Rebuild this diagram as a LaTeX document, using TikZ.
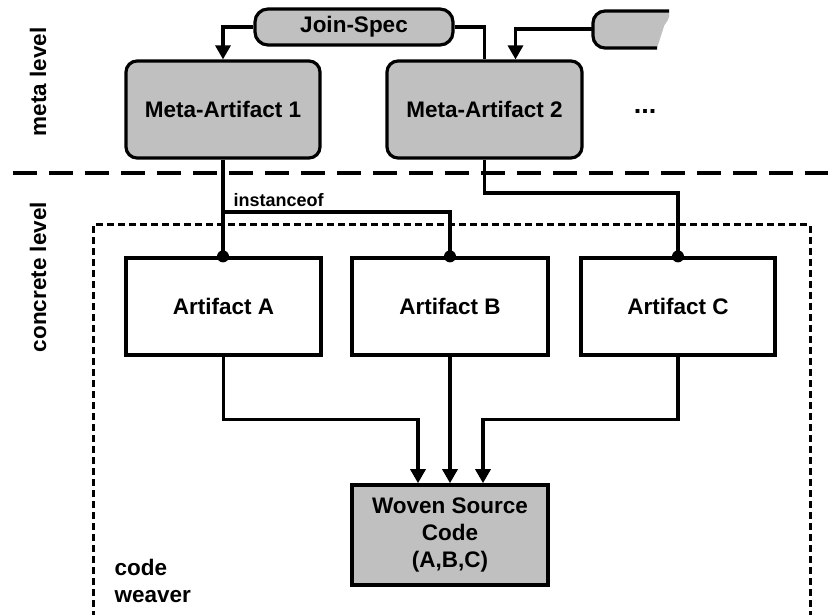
\documentclass[tikz,border=0pt]{standalone}
\usepackage{fontspec}
\setmainfont{Liberation Sans}
\usetikzlibrary{arrows.meta,calc}
\definecolor{boxgray}{HTML}{C0C0C0}
\begin{document}
\begin{tikzpicture}[x=1pt,y=-1pt,
  font=\bfseries\fontsize{22.5}{26.7}\selectfont,
  line width=3.2pt,
  metabox/.style={draw,fill=boxgray,rounded corners=11pt,minimum width=194pt,minimum height=97pt,inner sep=0pt,align=center},
  artbox/.style={draw,fill=white,minimum width=195pt,minimum height=97pt,inner sep=0pt,align=center},
  pill/.style={draw,fill=boxgray,rounded corners=13pt,minimum width=198pt,minimum height=36pt,inner sep=0pt},
  conn/.style={line width=3.2pt},
  arr/.style={conn,-{Triangle[width=15pt,length=14pt]}},
  levellabel/.style={rotate=90,inner sep=0pt}
]
\useasboundingbox (0,0) rectangle (831,615);

% dotted code weaver frame
\draw[line width=3pt,dash pattern=on 7pt off 4pt] (93,640) -- (93,225) -- (810,225) -- (810,640);

% long dashed separator
\draw[line width=4.2pt,dash pattern=on 24pt off 12pt] (13,173) -- (828,173);

% level labels
\node[levellabel] (ml) at (38,82) {meta level};
\node[levellabel] (cl) at (38,277) {concrete level};

% top nodes
\node[pill] (J) at (354,27) {Join-Spec};
\node[metabox] (M1) at (223,109.5) {Meta-Artifact 1};
\node[metabox,minimum width=195pt] (M2) at (484.5,109.5) {Meta-Artifact 2};
\node[anchor=base,font=\bfseries\fontsize{27}{30}\selectfont] (dots) at (645,113.5) {...};

% torn pill
\fill[boxgray,rounded corners=12pt] (669,11) -- (593,11) -- (593,48) -- (657,48);
\fill[boxgray] (640,11) -- (669,11) .. controls (671,18) and (666,24) .. (660,29)
  .. controls (655,33) and (648,37) .. (651,41) .. controls (654,44) and (656,46) .. (657,48) -- (640,48) -- cycle;
\draw[rounded corners=12pt] (669,11) -- (593,11) -- (593,48) -- (657,48);
\coordinate (torn) at (593,29);

% concrete nodes
\node[artbox] (A) at (223.5,306.5) {Artifact A};
\node[artbox,minimum width=196pt] (B) at (450,306.5) {Artifact B};
\node[artbox,minimum width=194pt] (C) at (678,306.5) {Artifact C};
\node[artbox,fill=boxgray,minimum width=196pt,minimum height=100pt,line width=3.6pt] (W) at (450,535) {Woven Source\\Code\\(A,B,C)};

% code weaver label
\node[anchor=base west,align=left,inner sep=0pt] (cw) at (113,575) {code};
\node[anchor=base west,align=left,inner sep=0pt] (cw2) at (113,602) {weaver};

% meta connectors
\draw[arr] (J.west) -| (M1.north);
\draw[conn] (J.east) -| (M2.north);
\draw[arr] (torn) -| ([xshift=31pt]M2.north);

% instanceof connectors
\draw[conn] (M1.south) -- (A.north -| M1.south);
\draw[conn] (M1.south |- 0,212) -| (B.north);
\node[anchor=base west,inner sep=0pt,font=\bfseries\fontsize{18}{20}\selectfont] (inst) at (232,207) {instanceof};
\draw[conn] (M2.south) |- (C.north |- 0,193) -- (C.north);
\fill (A.north -| M1.south) circle (6pt);
\fill (B.north) circle (6pt);
\fill (C.north) circle (6pt);

% weaving connectors
\draw[arr] (A.south) |- ($(W.north)+(-32,-64)$) -- ([xshift=-32pt]W.north);
\draw[arr] (B.south) -- (W.north);
\draw[arr] (C.south) |- ($(W.north)+(33,-64)$) -- ([xshift=33pt]W.north);
\end{tikzpicture}
\end{document}
